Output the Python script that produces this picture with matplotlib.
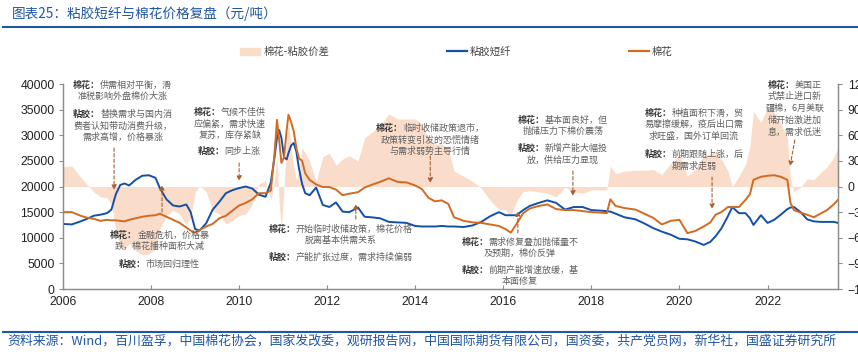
import numpy as np
import matplotlib
matplotlib.use("Agg")
import matplotlib.pyplot as plt
from matplotlib.patches import Patch
from matplotlib.lines import Line2D

plt.rcParams['font.family'] = ['Noto Sans CJK SC', 'DejaVu Sans']

# ---- data (decimal years) ----
dates = [2006.0, 2006.2, 2006.4, 2006.55, 2006.7, 2006.85, 2007.0, 2007.1, 2007.2, 2007.3,
         2007.4, 2007.5, 2007.65, 2007.8, 2007.95, 2008.1, 2008.2, 2008.35, 2008.5, 2008.65,
         2008.8, 2008.9, 2009.0, 2009.1, 2009.25, 2009.4, 2009.55, 2009.7, 2009.85, 2010.0,
         2010.15, 2010.3, 2010.45, 2010.6, 2010.72, 2010.8, 2010.86, 2010.91, 2010.96, 2011.02,
         2011.08, 2011.12, 2011.18, 2011.24, 2011.3, 2011.36, 2011.43, 2011.5, 2011.6, 2011.75,
         2011.9, 2012.05, 2012.2, 2012.35, 2012.5, 2012.7, 2012.85, 2013.0, 2013.2, 2013.4,
         2013.6, 2013.8, 2014.0, 2014.15, 2014.3, 2014.45, 2014.6, 2014.75, 2014.88, 2015.1,
         2015.3, 2015.5, 2015.7, 2015.9, 2016.05, 2016.17, 2016.3, 2016.45, 2016.6, 2016.8,
         2017.0, 2017.2, 2017.4, 2017.6, 2017.8, 2018.0, 2018.2, 2018.35, 2018.43, 2018.55,
         2018.75, 2019.0, 2019.2, 2019.4, 2019.6, 2019.8, 2020.0, 2020.18, 2020.35, 2020.55,
         2020.7, 2020.82, 2020.95, 2021.1, 2021.2, 2021.35, 2021.5, 2021.6, 2021.68, 2021.85,
         2022.0, 2022.15, 2022.3, 2022.45, 2022.52, 2022.6, 2022.75, 2022.9, 2023.05, 2023.2,
         2023.35, 2023.5, 2023.6]

# 粘胶短纤
viscose = [12700, 12600, 13200, 13700, 14300, 14500, 14800, 15500, 18500, 20300,
           20600, 20200, 21300, 22100, 22200, 21700, 19700, 17500, 16300, 16100,
           16500, 15000, 11700, 11400, 12800, 15500, 17000, 18700, 19300, 19700,
           20000, 19600, 18400, 18000, 20800, 25500, 29500, 31000, 29500, 25700,
           25300, 26500, 28000, 28500, 26800, 23500, 20500, 18700, 18300, 19800,
           16400, 16000, 16900, 15100, 15000, 15900, 14100, 14000, 13800, 13100,
           13000, 12900, 12300, 12200, 12200, 12200, 12300, 12200, 12200, 12100,
           12400, 13100, 14200, 15000, 14400, 14400, 14400, 15400, 16200, 16800,
           17300, 16800, 15500, 16000, 16000, 15400, 15300, 15200, 15100, 14700,
           14000, 13600, 12800, 11900, 11200, 10600, 9800, 9700, 9300, 8600,
           9200, 10300, 11800, 14200, 16000, 14800, 14800, 13800, 12500, 14400,
           12900, 13500, 14500, 15600, 15900, 16000, 15000, 13600, 13200, 13100,
           13100, 13100, 12900]

# 棉花
cotton = [15000, 15000, 14300, 13900, 13700, 13300, 13500, 13400, 13400, 13300,
          13200, 13500, 13800, 14100, 14300, 14400, 14700, 14100, 13500, 12900,
          12000, 11400, 11000, 11500, 12200, 12700, 13800, 14300, 15300, 16300,
          16800, 17500, 18700, 18700, 19200, 26000, 33000, 29000, 24600, 25700,
          31000, 34000, 32600, 30800, 27500, 25500, 25000, 22600, 21300, 20400,
          19900, 19900, 19400, 18300, 18600, 18900, 19800, 20300, 20900, 21600,
          20900, 20800, 20200, 19500, 17800, 17100, 17300, 16600, 14000, 13300,
          13000, 12900, 12600, 12300, 11700, 11000, 12700, 14800, 15700, 16200,
          16500, 15600, 15400, 15400, 15200, 15000, 14900, 14800, 17500, 16200,
          15800, 15500, 14700, 13900, 12600, 13300, 13500, 10900, 11300, 12200,
          13000, 14500, 15000, 16000, 16000, 16000, 17400, 18500, 21300, 21900,
          22100, 22200, 21900, 21300, 16800, 15400, 14900, 14500, 14000, 14700,
          15400, 16500, 17400]

# 棉花-粘胶价差
spread = np.array(cotton) - np.array(viscose)

year_ticks = [2006, 2008, 2010, 2012, 2014, 2016, 2018, 2020, 2022]

# annotation blocks: (x year, y value, lines)
notes = [
    (2007.36, 39800, ["棉花：供需相对平衡，滑", "准税影响外盘棉价大涨"]),
    (2007.36, 34150, ["粘胶：替换需求与国内消", "费者认知带动消费升级，", "需求高增，价格暴涨"]),
    (2009.79, 34540, ["棉花：气候不佳供", "应偏紧，需求快速", "复苏，库存紧缺"]),
    (2009.77, 26930, ["粘胶：同步上涨"]),
    (2008.20, 10540, ["棉花：金融危机，价格暴", "跌，棉花播种面积大减"]),
    (2008.18, 4880, ["粘胶：市场回归理性"]),
    (2012.31, 11710, ["棉花：开始临时收储政策，棉花价格", "脱离基本供需关系"]),
    (2012.31, 6240, ["粘胶：产能扩张过度，需求持续偏弱"]),
    (2014.34, 31410, ["棉花：临时收储政策退市，", "政策转变引发的恐慌情绪", "与需求弱势主导行情"]),
    (2017.36, 32980, ["棉花：基本面良好，但", "抛储压力下棉价震荡"]),
    (2017.36, 27510, ["粘胶：新增产能大幅投", "放，供给压力显现"]),
    (2020.33, 34340, ["棉花：种植面积下滑，贸", "易摩擦缓解，疫后出口需", "求旺盛，国外订单回流"]),
    (2020.33, 26340, ["粘胶：前期跟随上涨，后", "期需求走弱"]),
    (2022.62, 39800, ["棉花：美国正", "式禁止进口新", "疆棉，6月美联", "储开始激进加", "息，需求低迷"]),
    (2016.38, 9170, ["棉花：需求修复叠加抛储量不", "及预期，棉价反弹"]),
    (2016.38, 3710, ["粘胶：前期产能增速放缓，基", "本面修复"]),
]

# arrows: (tail x, tail y) -> (head x, head y)
arrows = [
    ((2007.16, 27510), (2007.16, 19320)),
    ((2008.25, 15020), (2008.25, 20290)),
    ((2010.00, 24580), (2010.00, 21070)),
    ((2012.65, 13660), (2012.65, 16590)),
    ((2014.34, 25950), (2014.34, 20680)),
    ((2016.33, 10930), (2016.33, 15220)),
    ((2017.58, 23020), (2017.58, 18150)),
    ((2020.74, 21850), (2020.74, 15610)),
    ((2022.62, 29070), (2022.51, 24000)),
]

blue = '#1450A8'
orange = '#D26A21'
area_c = '#FADCCA'
title_c = '#1F56A5'
grey = '#8C8C8C'

fig = plt.figure(figsize=(8.58, 3.58), dpi=100)
ax = fig.add_axes([0.0734, 0.1927, 0.9033, 0.5726])
ax2 = ax.twinx()

# spread area on right axis
ax2.fill_between(dates, spread, 0, color=area_c, lw=0)
ax2.set_ylim(-12000, 12000)
ax2.set_yticks(np.arange(-12000, 12001, 3000))

ax.plot(dates, viscose, color=blue, lw=1.4)
ax.plot(dates, cotton, color=orange, lw=1.4)
ax.set_xlim(2006, 2023.6)
ax.set_ylim(0, 40000)
ax.set_yticks(np.arange(0, 40001, 5000))
ax.set_xticks(year_ticks)
ax.set_xticklabels([str(y) for y in year_ticks])
ax.set_zorder(ax2.get_zorder() + 1)
ax.patch.set_visible(False)

for a in (ax, ax2):
    a.spines['top'].set_visible(False)
    for s in ('left', 'right', 'bottom'):
        a.spines[s].set_color(grey)
        a.spines[s].set_linewidth(0.9)
ax.tick_params(axis='y', direction='out', length=3, color=grey, pad=3,
               labelsize=8.8, labelfontfamily='Liberation Sans', labelcolor='#222222')
ax.tick_params(axis='x', direction='in', length=3, color=grey, pad=5,
               labelsize=8.8, labelfontfamily='Liberation Sans', labelcolor='#222222')
ax2.tick_params(axis='y', direction='out', length=3, color=grey, pad=4,
                labelsize=8.8, labelfontfamily='Liberation Sans', labelcolor='#222222')

# annotations
fs = 6.5
lh = 8.5
for x, y, lines in notes:
    for i, line in enumerate(lines):
        if i == 0:
            w = sum(1.0 if ord(c) > 0x2E80 else 0.55 for c in line) * fs
            ax.annotate(line[:3], (x, y), xytext=(-w / 2, 0), textcoords='offset points',
                        ha='left', va='center', fontsize=fs, color='#3A3A3A', fontweight='bold')
            ax.annotate(line[3:], (x, y), xytext=(-w / 2 + 3 * fs, 0), textcoords='offset points',
                        ha='left', va='center', fontsize=fs, color='#606060')
        else:
            ax.annotate(line, (x, y), xytext=(0, -i * lh), textcoords='offset points',
                        ha='center', va='center', fontsize=fs, color='#606060')

for tail, head in arrows:
    ax.annotate('', xy=head, xytext=tail,
                arrowprops=dict(arrowstyle='-|>', color='#A8602F', lw=0.8, ls=(0, (3, 2)),
                                mutation_scale=7, shrinkA=0, shrinkB=0))

# legend
handles = [Patch(color=area_c), Line2D([], [], color=blue, lw=1.6), Line2D([], [], color=orange, lw=1.6)]
fig.legend(handles, ['棉花-粘胶价差', '粘胶短纤', '棉花'], loc='center',
           bbox_to_anchor=(0.532, 1 - 52 / 358), ncol=3, frameon=False, fontsize=7.5,
           columnspacing=11.3, handlelength=1.9, handletextpad=0.3, labelcolor='#444444')

# title, rules and source
fig.text(0.014, 1 - 14 / 358, '图表25：粘胶短纤与棉花价格复盘（元/吨）', fontsize=9.8, color=title_c,
         style='italic', ha='left', va='center')
fig.add_artist(Line2D([0.004, 1.0], [1 - 27 / 358] * 2, color=title_c, lw=1.5))
fig.add_artist(Line2D([0.004, 1.0], [1 - 332 / 358] * 2, color=title_c, lw=1.5))
fig.text(0.009, 1 - 341 / 358,
         '资料来源：Wind，百川盈孚，中国棉花协会，国家发改委，观研报告网，中国国际期货有限公司，国资委，共产党员网，新华社，国盛证券研究所',
         fontsize=9.3, color=title_c, style='italic', ha='left', va='center')

fig.savefig('out.png', dpi=100)
